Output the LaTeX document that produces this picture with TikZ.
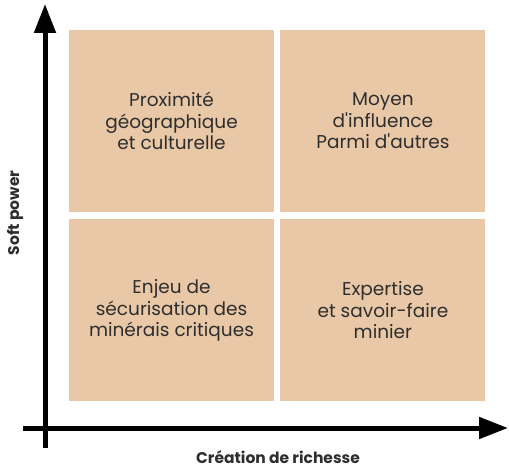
\documentclass[tikz,border=0pt]{standalone}
\usepackage{fontspec}
\setmainfont{Poppins}[Ligatures=TeXOff]
\usepackage{xcolor}
\usetikzlibrary{arrows.meta,positioning}
\definecolor{sand}{HTML}{E9C8A7}
\definecolor{ink}{HTML}{2E2E2E}
\tikzset{
  quadbox/.style={
    rectangle, fill=sand, draw=none,
    minimum width=205bp, minimum height=182bp,
    font=\fontsize{18.5bp}{21.5bp}\selectfont, text=ink, align=center,
    inner sep=0pt
  },
  axisline/.style={
    line width=5bp, black
  },
  axisarrow/.style={
    axisline, -{Triangle[length=29bp,width=21bp]}
  },
  axislabel/.style={
    font=\fontsize{15.5bp}{18bp}\selectfont\bfseries, text=ink
  },
}
\begin{document}
\begin{tikzpicture}[x=1bp,y=-1bp]
\useasboundingbox (0,0) rectangle (509,468);

% Quadrants
\node[quadbox] (tl) at (171.5,121) {Proximité\\géographique\\et culturelle};
\node[quadbox, right=6bp of tl] (tr) {Moyen\\d'influence\\Parmi d'autres};
\node[quadbox, below=7bp of tl] (bl) {Enjeu de\\sécurisation des\\minérais critiques};
\node[quadbox, right=6bp of bl] (br) {Expertise\\et savoir-faire\\minier};

% Axes
\coordinate (ybot) at (45,448);
\coordinate (ytop) at (45,4);
\coordinate (xleft) at (23,428);
\coordinate (xright) at (508,428);
\draw[axisarrow] (ybot) -- (ytop);
\draw[axisarrow] (xleft) -- (xright);

% Axis labels
\node[axislabel, rotate=90] (ylab) at (15,213) {Soft power};
\node[axislabel] (xlab) at (278,457) {Création de richesse};

\end{tikzpicture}
\end{document}
